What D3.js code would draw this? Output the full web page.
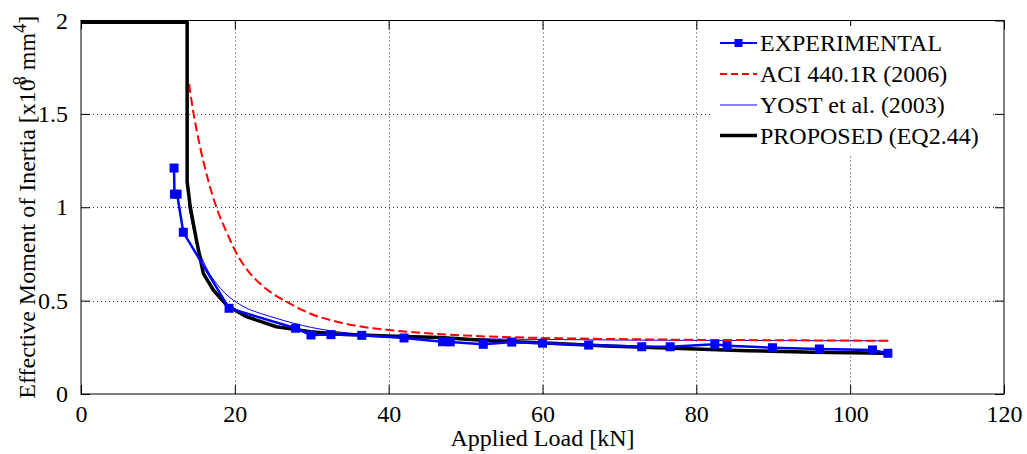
<!DOCTYPE html>
<html>
<head>
<meta charset="utf-8">
<script src="https://cdn.jsdelivr.net/npm/d3@7"></script>
<style>
  body { margin: 0; background: #fff; }
  svg { display: block; }
  text { font-family: "Liberation Serif", "Times New Roman", serif; fill: #000; }
</style>
</head>
<body>
<svg id="chart" width="1027" height="454"></svg>
<script>
// Applied load [kN] vs effective moment of inertia [x10^8 mm^4]
const expLoad    = [12.1, 12.15, 12.5, 13.3, 19.25, 27.9, 29.9, 32.5, 36.5, 42, 47, 48, 52.3, 56, 60, 66, 72.9, 76.6, 82.4, 84.0, 89.9, 96.0, 102.9, 104.9];
const expInertia = [1.21, 1.07, 1.07, 0.866, 0.459, 0.352, 0.316, 0.318, 0.314, 0.30, 0.28, 0.279, 0.266, 0.278, 0.272, 0.262, 0.253, 0.253, 0.266, 0.259, 0.248, 0.241, 0.236, 0.218];

const aciLoad    = [14.05, 14.6, 15.5, 16.5, 17.6, 19, 20.2, 22, 23.3, 25, 26.7, 28.5, 30.6, 33, 35.4, 38, 40, 45, 50, 55, 60, 70, 80, 90, 100, 105];
const aciInertia = [1.66, 1.51, 1.32, 1.15, 1.00, 0.86, 0.755, 0.645, 0.59, 0.535, 0.494, 0.455, 0.418, 0.39, 0.368, 0.352, 0.343, 0.325, 0.313, 0.305, 0.30, 0.294, 0.29, 0.288, 0.286, 0.285];

const yostLoad    = [13.95, 14.5, 15.5, 16.5, 17.6, 18.7, 19.8, 21.5, 23.3, 25.5, 27.6, 30, 33.2, 37, 40, 45, 50, 60, 70, 80, 90, 105];
const yostInertia = [1.02, 0.90, 0.753, 0.66, 0.593, 0.54, 0.503, 0.46, 0.432, 0.404, 0.379, 0.356, 0.334, 0.318, 0.31, 0.302, 0.297, 0.292, 0.289, 0.287, 0.286, 0.285];

const propLoad    = [0, 13.8, 13.8, 14.2, 15.0, 15.9, 17.2, 18.9, 21.5, 25.4, 29.8, 33.7, 39.9, 46.7, 53.2, 59.7, 68.4, 77.0, 86.6, 95.2, 104.8];
const propInertia = [1.99, 1.99, 1.137, 1.003, 0.825, 0.646, 0.557, 0.477, 0.414, 0.36, 0.334, 0.32, 0.311, 0.302, 0.285, 0.275, 0.257, 0.245, 0.232, 0.223, 0.218];

const xTicks = [0, 20, 40, 60, 80, 100, 120];
const yTicks = [0, 0.5, 1, 1.5, 2];
const legendLabels = ["EXPERIMENTAL", "ACI 440.1R (2006)", "YOST et al. (2003)", "PROPOSED (EQ2.44)"];

(function draw() {
  const svg = d3.select("#chart");
  const pLeft = 81, pRight = 1004, pTop = 20.5, pBottom = 394;

  const x = d3.scaleLinear().domain([0, 120]).range([pLeft, pRight]);
  const y = d3.scaleLinear().domain([0, 2]).range([pBottom, pTop]);

  const FONT = 24;

  // dotted grid
  const grid = svg.append("g").attr("stroke", "#333").attr("stroke-width", 1).attr("stroke-dasharray", "1,3");
  grid.selectAll(".gx").data(xTicks.slice(1, -1)).join("line")
    .attr("x1", d => Math.round(x(d)) + 0.5).attr("x2", d => Math.round(x(d)) + 0.5)
    .attr("y1", pTop).attr("y2", pBottom);
  grid.selectAll(".gy").data(yTicks.slice(1, -1)).join("line")
    .attr("y1", d => Math.round(y(d)) + 0.5).attr("y2", d => Math.round(y(d)) + 0.5)
    .attr("x1", pLeft).attr("x2", pRight);

  // axes with inward ticks on all four sides
  const tickLen = 9;
  const xAxisB = d3.axisBottom(x).tickValues(xTicks).tickSizeInner(-tickLen).tickSizeOuter(0).tickPadding(tickLen + 4).tickFormat(d3.format("d"));
  const xAxisT = d3.axisTop(x).tickValues(xTicks).tickSizeInner(-tickLen).tickSizeOuter(0).tickFormat("");
  const yAxisL = d3.axisLeft(y).tickValues(yTicks).tickSizeInner(-tickLen).tickSizeOuter(0).tickPadding(tickLen + 4).tickFormat(d => String(d));
  const yAxisR = d3.axisRight(y).tickValues(yTicks).tickSizeInner(-tickLen).tickSizeOuter(0).tickFormat("");

  function styleAxis(g) {
    g.attr("font-family", null).attr("font-size", null);
    g.select(".domain").remove();
    g.selectAll(".tick line").attr("stroke", "#000").attr("stroke-width", 1);
    g.selectAll("text").style("font-size", FONT + "px").style("font-family", "'Liberation Serif', serif").attr("fill", "#000");
  }
  svg.append("g").attr("transform", `translate(0,${pBottom})`).call(xAxisB).call(styleAxis)
    .selectAll("text").attr("dy", "0.62em");
  svg.append("g").attr("transform", `translate(0,${pTop})`).call(xAxisT).call(styleAxis);
  svg.append("g").attr("transform", `translate(${pLeft},0)`).call(yAxisL).call(styleAxis);
  svg.append("g").attr("transform", `translate(${pRight},0)`).call(yAxisR).call(styleAxis);

  // legend backdrop
  svg.append("rect").attr("x", 713).attr("y", 26).attr("width", 277).attr("height", 128).attr("fill", "#fff");

  const line = d3.line().x(d => x(d[0])).y(d => y(d[1]));
  const smooth = d3.line().x(d => x(d[0])).y(d => y(d[1])).curve(d3.curveMonotoneX);
  const zipPts = (a, b) => a.map((v, i) => [v, b[i]]);

  const plot = svg.append("g");

  // YOST et al. (2003)
  plot.append("path").datum(zipPts(yostLoad, yostInertia)).attr("d", smooth)
    .attr("fill", "none").attr("stroke", "#0000ff").attr("stroke-width", 1);

  // ACI 440.1R (2006)
  plot.append("path").datum(zipPts(aciLoad, aciInertia)).attr("d", smooth)
    .attr("fill", "none").attr("stroke", "#ff0000").attr("stroke-width", 2).attr("stroke-dasharray", "9,4");

  // Proposed (EQ2.44)
  plot.append("path").datum(zipPts(propLoad, propInertia)).attr("d", line)
    .attr("fill", "none").attr("stroke", "#000").attr("stroke-width", 3.5).attr("stroke-linejoin", "round");

  // Experimental
  const expPts = zipPts(expLoad, expInertia);
  plot.append("path").datum(expPts).attr("d", line)
    .attr("fill", "none").attr("stroke", "#0000ff").attr("stroke-width", 2.5);
  const ms = 9;
  plot.selectAll(".m").data(expPts).join("rect")
    .attr("x", d => x(d[0]) - ms / 2).attr("y", d => y(d[1]) - ms / 2)
    .attr("width", ms).attr("height", ms).attr("fill", "#0000ff");

  // frame
  svg.append("rect").attr("x", pLeft).attr("y", pTop).attr("width", pRight - pLeft).attr("height", pBottom - pTop)
    .attr("fill", "none").attr("stroke", "#000").attr("stroke-width", 1);

  // legend
  const legendStyles = [
    { stroke: "#0000ff", width: 2, dash: null, marker: true },
    { stroke: "#ff0000", width: 2, dash: "7,4", marker: false },
    { stroke: "#0000ff", width: 1, dash: null, marker: false },
    { stroke: "#000", width: 3.5, dash: null, marker: false }
  ];
  const lg = svg.append("g");
  const rowY = [43, 74, 105, 135.5];
  legendLabels.forEach((lab, i) => {
    const s = legendStyles[i];
    const yy = rowY[i];
    lg.append("line").attr("x1", 720).attr("x2", 757).attr("y1", yy).attr("y2", yy)
      .attr("stroke", s.stroke).attr("stroke-width", s.width).attr("stroke-dasharray", s.dash);
    if (s.marker) lg.append("rect").attr("x", 738.5 - 4).attr("y", yy - 4).attr("width", 8).attr("height", 8).attr("fill", s.stroke);
    lg.append("text").attr("x", 760).attr("y", yy).attr("dy", "0.35em").style("font-size", FONT + "px").text(lab);
  });

  // axis titles
  svg.append("text").attr("x", (pLeft + pRight) / 2).attr("y", 446).attr("text-anchor", "middle")
    .style("font-size", FONT + "px").text("Applied Load [kN]");

  const yt = svg.append("text").attr("transform", `translate(35,${(pTop + pBottom) / 2}) rotate(-90)`)
    .attr("text-anchor", "middle").style("font-size", FONT + "px");
  yt.append("tspan").text("Effective Moment of Inertia [x10");
  yt.append("tspan").attr("dy", -9).attr("dx", -6).style("font-size", "18px").text("8");
  yt.append("tspan").attr("dy", 9).text(" mm");
  yt.append("tspan").attr("dy", -9).style("font-size", "18px").text("4");
  yt.append("tspan").attr("dy", 9).text("]");
})();
</script>
</body>
</html>
